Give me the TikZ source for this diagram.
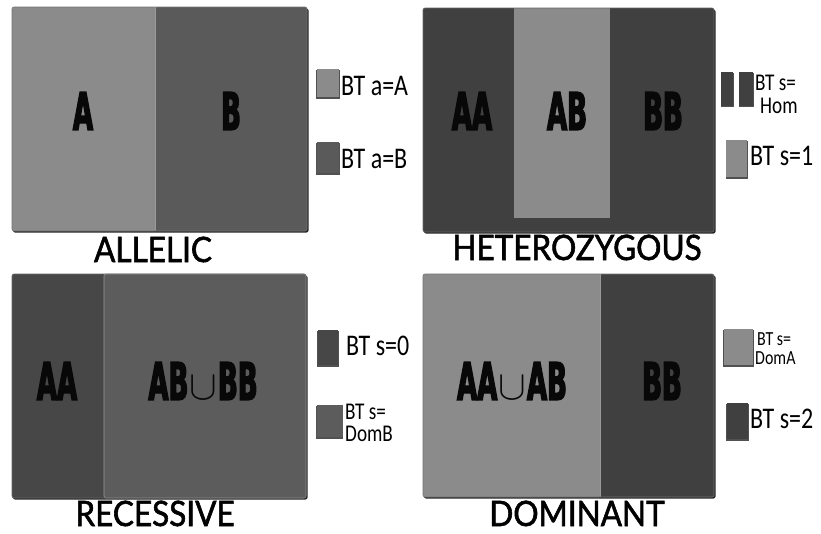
\documentclass[tikz,border=0pt]{standalone}
\usepackage{fontspec}
\newfontfamily\bigfont[FakeStretch=0.5,FakeBold=2.5]{DejaVu Sans}
\newfontfamily\titlefont[FakeStretch=0.9,FakeBold=1.6]{Lato}
\newfontfamily\legfont[FakeStretch=0.8]{Carlito}
\definecolor{lightg}{HTML}{8B8B8B}
\definecolor{midg}{HTML}{5A5A5A}
\definecolor{darkg}{HTML}{404040}
\definecolor{recdark}{HTML}{474747}
\definecolor{recmid}{HTML}{5C5C5C}
\definecolor{shadowg}{HTML}{262626}
\definecolor{edgeg}{HTML}{9A9A9A}
\begin{document}
\begin{tikzpicture}[x=1pt,y=-1pt,
  bigl/.style={inner sep=0pt, text=black!97, font=\bigfont\bfseries\fontsize{52}{52}\selectfont},
  ttl/.style={inner sep=0pt, anchor=base, font=\titlefont\fontsize{35}{35}\selectfont},
  leg/.style={inner sep=0pt, anchor=base west, font=\legfont\fontsize{30}{30}\selectfont},
  legs/.style={inner sep=0pt, anchor=base west, font=\legfont\fontsize{24}{24}\selectfont},
  legxs/.style={inner sep=0pt, anchor=base west, font=\legfont\fontsize{20}{20}\selectfont},
  shad/.style={fill=shadowg, rounded corners=2pt},
  sqshad/.style={fill=shadowg!80}]
\useasboundingbox (0,0) rectangle (821,533);
\fill[white] (0,0) rectangle (821,533);
\newcommand{\cupsym}{{\fontsize{20}{20}\selectfont\kern1pt\scalebox{2}{$\cup$}\kern1pt}}

% ---------- ALLELIC ----------
\fill[shad] (13,8.5) rectangle (308.5,232.5);
\fill[lightg, rounded corners=2pt] (12,7) rectangle (156,231);
\fill[midg, rounded corners=2pt] (155,7) rectangle (307,231);
\draw[edgeg, line width=1pt] (155,7) -- (155,231);
\draw[black!55, line width=0.6pt, rounded corners=2pt] (12,7) rectangle (307,231);
\node[bigl] (a1) at (83,111) {A};
\node[bigl] (b1) at (231,111) {B};
\fill[sqshad] (316,70) rectangle (340,98.5);
\fill[lightg] (316.5,69) rectangle (339,97);
\fill[sqshad] (316,143) rectangle (340,174.5);
\fill[midg] (316.5,142) rectangle (339,173);
\node[leg] (l1a) at (341,95) {BT a=A};
\node[leg] (l1b) at (341,168) {BT a=B};
\node[ttl] (t1) at (153,262) {ALLELIC};

% ---------- HETEROZYGOUS ----------
\fill[shad] (424,9.5) rectangle (715.5,233.5);
\fill[darkg, rounded corners=2pt] (423,8) rectangle (714,232);
\fill[lightg] (514,8) rectangle (610,218);
\draw[black!75, line width=0.8pt] (514,218.5) -- (610,218.5);
\draw[black!60, line width=0.6pt, rounded corners=2pt] (423,8) rectangle (714,232);
\node[bigl] (aa2) at (472,111) {AA};
\node[bigl] (ab2) at (567,111) {AB};
\node[bigl] (bb2) at (663,111) {BB};
\fill[sqshad] (721,73) rectangle (734,107);
\fill[darkg] (721,72) rectangle (733,106);
\fill[sqshad] (739,73) rectangle (754,107);
\fill[darkg] (739,72) rectangle (753,106);
\fill[sqshad] (726,141) rectangle (748,178.5);
\fill[lightg] (726,140) rectangle (747,177);
\node[legs] (l2a) at (755,90) {BT s=};
\node[legs] (l2b) at (760,113) {Hom};
\node[leg] (l2c) at (750,165) {BT s=1};
\node[ttl] (t2) at (577,260) {HETEROZYGOUS};

% ---------- RECESSIVE ----------
\fill[shad] (13,275.5) rectangle (307.5,499.5);
\fill[recdark, rounded corners=2pt] (12,274) rectangle (106,498);
\fill[recmid, rounded corners=2pt] (104,274) rectangle (306,498);
\draw[black!40, line width=0.6pt, rounded corners=2pt] (104,274) rectangle (306,498);
\draw[black!60, line width=0.6pt, rounded corners=2pt] (12,274) rectangle (306,498);
\node[bigl] (aa3) at (57,381) {AA};
\node[bigl] (abbb3) at (203,381) {AB\cupsym BB};
\fill[sqshad] (317,331) rectangle (338.5,366.5);
\fill[recdark] (317.5,330) rectangle (338,365);
\fill[sqshad] (315.5,406) rectangle (343,438.5);
\fill[recmid] (316.5,405) rectangle (343,437);
\node[leg] (l3a) at (346,355) {BT s=0};
\node[legs] (l3b) at (345,419) {BT s=};
\node[legs] (l3c) at (345,441) {DomB};
\node[ttl] (t3) at (155,526) {RECESSIVE};

% ---------- DOMINANT ----------
\fill[shad] (424,275.5) rectangle (715.5,498.5);
\fill[lightg, rounded corners=2pt] (423,274) rectangle (601,497);
\fill[darkg, rounded corners=2pt] (600,274) rectangle (714,497);
\draw[edgeg, line width=1pt] (600,274) -- (600,497);
\draw[black!55, line width=0.6pt, rounded corners=2pt] (423,274) rectangle (714,497);
\node[bigl] (aaab4) at (512,381) {AA\cupsym AB};
\node[bigl] (bb4) at (662,381) {BB};
\fill[sqshad] (723,330) rectangle (754,366.5);
\fill[lightg] (723.5,329) rectangle (753,365);
\fill[sqshad] (726,404) rectangle (749,440.5);
\fill[darkg] (726.5,403) rectangle (748,439);
\node[legxs] (l4a) at (757,345) {BT s=};
\node[legxs] (l4b) at (755,364) {DomA};
\node[leg] (l4c) at (750,428) {BT s=2};
\node[ttl] (t4) at (577,526) {DOMINANT};
\end{tikzpicture}
\end{document}
